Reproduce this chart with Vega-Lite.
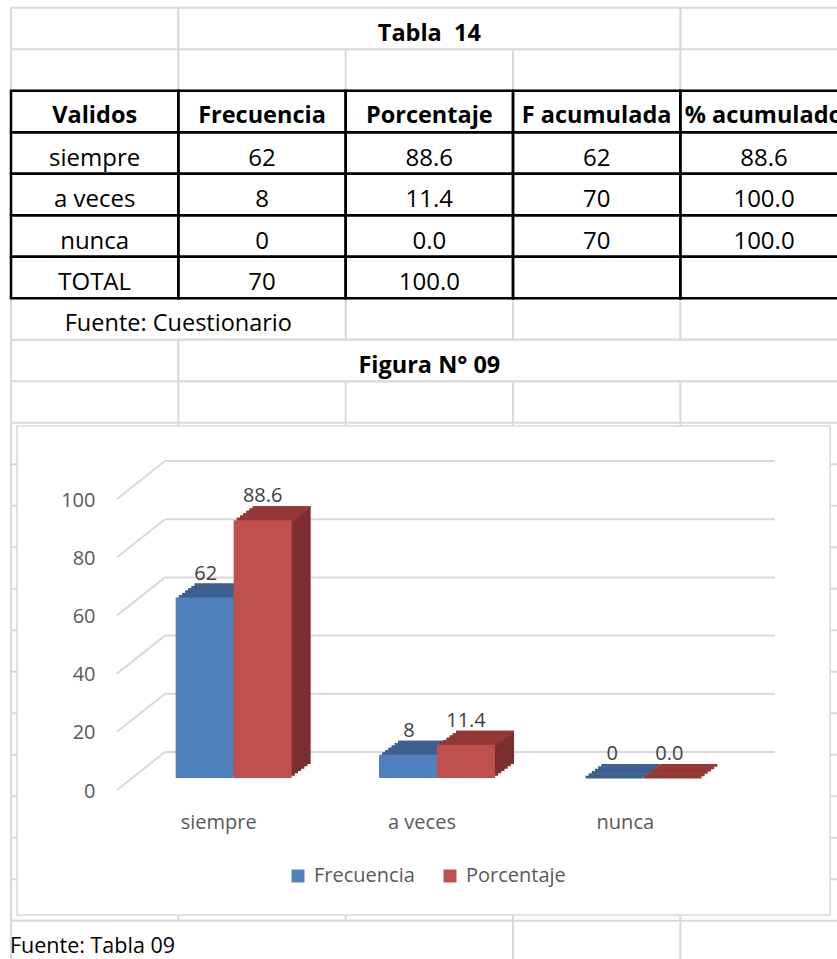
{
"$schema": "https://vega.github.io/schema/vega-lite/v6.json",
"width": 837, "height": 959, "padding": 0,
"autosize": {"type": "none"},
"background": "#ffffff",
"config": {"view": {"stroke": null}, "font": "Open Sans"},
"datasets": {
 "vlines": [{"c":0},{"c":1},{"c":2},{"c":3},{"c":4},{"c":5}],
 "hlines": [{"r":0},{"r":1},{"r":2},{"r":3},{"r":4},{"r":5},{"r":6},{"r":7},{"r":8},{"r":9},{"r":10},{"r":11},{"r":12},{"r":13},{"r":14},{"r":15},{"r":16},{"r":17},{"r":18},{"r":19},{"r":20},{"r":21},{"r":22},{"r":23}],
 "merged": [{"c0":1,"c1":4,"r0":0,"r1":1},{"c0":0,"c1":2,"r0":7,"r1":8},{"c0":1,"c1":5,"r0":8,"r1":9},{"c0":0,"c1":3,"r0":22,"r1":23}],
 "cells": [
  {"row":1,"col":"C","text":"Tabla\u00a0 14","kind":"title"},
  {"row":3,"col":"A","text":"Validos","kind":"header"},
  {"row":3,"col":"B","text":"Frecuencia","kind":"header"},
  {"row":3,"col":"C","text":"Porcentaje","kind":"header"},
  {"row":3,"col":"D","text":"F acumulada","kind":"header"},
  {"row":3,"col":"E","text":"% acumulado","kind":"header"},
  {"row":4,"col":"A","text":"siempre","kind":"body"},
  {"row":4,"col":"B","text":"62","kind":"body"},
  {"row":4,"col":"C","text":"88.6","kind":"body"},
  {"row":4,"col":"D","text":"62","kind":"body"},
  {"row":4,"col":"E","text":"88.6","kind":"body"},
  {"row":5,"col":"A","text":"a veces","kind":"body"},
  {"row":5,"col":"B","text":"8","kind":"body"},
  {"row":5,"col":"C","text":"11.4","kind":"body"},
  {"row":5,"col":"D","text":"70","kind":"body"},
  {"row":5,"col":"E","text":"100.0","kind":"body"},
  {"row":6,"col":"A","text":"nunca","kind":"body"},
  {"row":6,"col":"B","text":"0","kind":"body"},
  {"row":6,"col":"C","text":"0.0","kind":"body"},
  {"row":6,"col":"D","text":"70","kind":"body"},
  {"row":6,"col":"E","text":"100.0","kind":"body"},
  {"row":7,"col":"A","text":"TOTAL","kind":"body"},
  {"row":7,"col":"B","text":"70","kind":"body"},
  {"row":7,"col":"C","text":"100.0","kind":"body"},
  {"row":7,"col":"D","text":"","kind":"body"},
  {"row":7,"col":"E","text":"","kind":"body"},
  {"row":8,"col":"A","text":"Fuente: Cuestionario","kind":"note"},
  {"row":9,"col":"C","text":"Figura N° 09","kind":"title"},
  {"row":23,"col":"A","text":"Fuente: Tabla 09","kind":"footer"}
 ],
 "ticks": [{"v":0},{"v":20},{"v":40},{"v":60},{"v":80},{"v":100}],
 "chart": [
  {"cat":"siempre","series":"Frecuencia","value":62},
  {"cat":"a veces","series":"Frecuencia","value":8},
  {"cat":"nunca","series":"Frecuencia","value":0},
  {"cat":"siempre","series":"Porcentaje","value":88.6},
  {"cat":"a veces","series":"Porcentaje","value":11.4},
  {"cat":"nunca","series":"Porcentaje","value":0.0}
 ]
},
"resolve": {"scale": {"x": "independent", "y": "independent", "color": "independent"}},
"layer": [
 {
  "layer": [
   {"data": {"name": "vlines"},
    "mark": {"type": "rule", "color": "#d9d9d9", "strokeWidth": 2},
    "encoding": {
     "x": {"field": "c", "type": "quantitative", "scale": {"domain": [0, 6], "range": [11, 1015], "nice": false, "zero": false}, "axis": null},
     "y": {"datum": 0, "type": "quantitative", "scale": {"domain": [0, 24], "range": [7.7, 1003.7], "nice": false, "zero": false}, "axis": null},
     "y2": {"datum": 24}
    }},
   {"data": {"name": "hlines"},
    "mark": {"type": "rule", "color": "#d9d9d9", "strokeWidth": 2},
    "encoding": {
     "y": {"field": "r", "type": "quantitative", "axis": null},
     "x": {"datum": 0, "type": "quantitative", "axis": null},
     "x2": {"datum": 6}
    }},
   {"data": {"name": "merged"},
    "mark": {"type": "rect", "fill": "#ffffff", "stroke": "#d9d9d9", "strokeWidth": 2},
    "encoding": {
     "x": {"field": "c0", "type": "quantitative", "axis": null},
     "x2": {"field": "c1"},
     "y": {"field": "r0", "type": "quantitative", "axis": null},
     "y2": {"field": "r1"}
    }}
  ]
 },
 {
  "data": {"name": "cells"},
  "encoding": {
   "x": {"field": "col", "type": "nominal", "scale": {"domain": ["A","B","C","D","E","F"], "range": [11, 1015], "paddingInner": 0, "paddingOuter": 0}, "axis": null},
   "y": {"field": "row", "type": "ordinal", "scale": {"domain": [1,2,3,4,5,6,7,8,9,10,11,12,13,14,15,16,17,18,19,20,21,22,23,24], "range": [7.7, 1003.7], "paddingInner": 0, "paddingOuter": 0}, "axis": null}
  },
  "layer": [
   {"transform": [{"filter": "datum.kind === 'header' || datum.kind === 'body'"}],
    "mark": {"type": "rect", "fill": "#ffffff", "fillOpacity": 0, "stroke": "#000000", "strokeWidth": 2.5}},
   {"transform": [{"filter": "datum.kind === 'header'"}],
    "mark": {"type": "text", "fontSize": 23.5, "fontWeight": "bold", "color": "#000000", "baseline": "alphabetic", "dy": -9},
    "encoding": {"y": {"field": "row", "type": "ordinal", "bandPosition": 1}, "text": {"field": "text"}}},
   {"transform": [{"filter": "datum.kind === 'body'"}],
    "mark": {"type": "text", "fontSize": 24, "color": "#000000", "baseline": "alphabetic", "dy": -8},
    "encoding": {"y": {"field": "row", "type": "ordinal", "bandPosition": 1}, "text": {"field": "text"}}},
   {"transform": [{"filter": "datum.kind === 'title'"}],
    "mark": {"type": "text", "fontSize": 23.5, "fontWeight": "bold", "color": "#000000", "baseline": "alphabetic", "dy": -8},
    "encoding": {"y": {"field": "row", "type": "ordinal", "bandPosition": 1}, "text": {"field": "text"}}},
   {"transform": [{"filter": "datum.kind === 'note'"}],
    "mark": {"type": "text", "fontSize": 23.5, "color": "#000000", "baseline": "alphabetic", "dy": -9},
    "encoding": {"x": {"field": "col", "type": "nominal", "bandPosition": 1}, "y": {"field": "row", "type": "ordinal", "bandPosition": 1}, "text": {"field": "text"}}},
   {"transform": [{"filter": "datum.kind === 'footer'"}],
    "mark": {"type": "text", "fontSize": 21.5, "color": "#000000", "align": "left", "baseline": "alphabetic", "dy": -9, "dx": -1},
    "encoding": {"x": {"field": "col", "type": "nominal", "bandPosition": 0}, "y": {"field": "row", "type": "ordinal", "bandPosition": 1}, "text": {"field": "text"}}}
  ]
 },
 {
  "data": {"values": [{"k": 1}]},
  "mark": {"type": "rect", "fill": "#ffffff", "stroke": "#d9d9d9", "strokeWidth": 1.5},
  "encoding": {
   "x": {"datum": 0, "type": "quantitative", "scale": {"domain": [0, 1], "range": [17, 830], "nice": false, "zero": false}, "axis": null},
   "x2": {"datum": 1},
   "y": {"datum": 0, "type": "quantitative", "scale": {"domain": [0, 1], "range": [915, 426], "nice": false, "zero": false}, "axis": null},
   "y2": {"datum": 1}
  }
 },
 {
  "data": {"name": "ticks"},
  "encoding": {
   "y": {"field": "v", "type": "quantitative", "scale": {"domain": [0, 100], "range": [752, 461], "nice": false, "zero": true},
    "axis": {"orient": "left", "offset": -117, "labelPadding": 22, "labelOffset": 39, "ticks": false, "domain": false, "grid": false, "title": null, "values": [0,20,40,60,80,100], "labelFontSize": 20, "labelFont": "Open Sans", "labelColor": "#595959", "zindex": 2}}
  },
  "layer": [
   {"mark": {"type": "rule", "color": "#d9d9d9", "strokeWidth": 2},
    "encoding": {
     "x": {"datum": 0, "type": "quantitative", "scale": {"domain": [0, 1], "range": [165, 775], "nice": false, "zero": false}, "axis": null},
     "x2": {"datum": 1}
    }},
   {"mark": {"type": "rule", "color": "#d9d9d9", "strokeWidth": 2, "x2Offset": -48, "y2Offset": 38},
    "encoding": {
     "x": {"datum": 0, "type": "quantitative", "axis": null},
     "x2": {"datum": 0},
     "y2": {"field": "v"}
    }}
  ]
 },
 {
  "data": {"name": "chart"},
  "encoding": {
   "x": {"field": "cat", "type": "nominal", "sort": null, "scale": {"domain": ["siempre", "a veces", "nunca"], "range": [165, 775], "paddingInner": 0, "paddingOuter": 0},
    "axis": {"orient": "bottom", "offset": -151, "labelOffset": -48, "labelPadding": 4, "ticks": false, "domain": false, "grid": false, "title": null, "labelAngle": 0, "labelFontSize": 20, "labelFont": "Open Sans", "labelColor": "#595959", "zindex": 2}},
   "y": {"field": "value", "type": "quantitative", "scale": {"domain": [0, 100], "range": [752, 461], "nice": false, "zero": true}, "axis": null}
  },
  "layer": [
   {
    "transform": [{"filter": "datum.series === 'Frecuencia'"}],
    "layer": [
     {"mark": {"type": "bar", "width": 58, "color": "#35577f", "xOffset": -58.83, "yOffset": 23.67, "y2Offset": 23.67}},
     {"mark": {"type": "bar", "width": 58, "color": "#35577f", "xOffset": -55.67, "yOffset": 21.33, "y2Offset": 21.33}},
     {"mark": {"type": "bar", "width": 58, "color": "#35577f", "xOffset": -52.5, "yOffset": 19, "y2Offset": 19}},
     {"mark": {"type": "bar", "width": 58, "color": "#35577f", "xOffset": -49.33, "yOffset": 16.67, "y2Offset": 16.67}},
     {"mark": {"type": "bar", "width": 58, "color": "#35577f", "xOffset": -46.17, "yOffset": 14.33, "y2Offset": 14.33}},
     {"mark": {"type": "bar", "width": 58, "color": "#35577f", "xOffset": -43, "yOffset": 12, "y2Offset": 12}},
     {"mark": {"type": "bar", "width": 58, "color": "#3c618e", "xOffset": -58.83, "yOffset": 23.67, "y2Offset": 26.5}, "encoding": {"y2": {"field": "value"}}},
     {"mark": {"type": "bar", "width": 58, "color": "#3c618e", "xOffset": -55.67, "yOffset": 21.33, "y2Offset": 24.17}, "encoding": {"y2": {"field": "value"}}},
     {"mark": {"type": "bar", "width": 58, "color": "#3c618e", "xOffset": -52.5, "yOffset": 19, "y2Offset": 21.83}, "encoding": {"y2": {"field": "value"}}},
     {"mark": {"type": "bar", "width": 58, "color": "#3c618e", "xOffset": -49.33, "yOffset": 16.67, "y2Offset": 19.5}, "encoding": {"y2": {"field": "value"}}},
     {"mark": {"type": "bar", "width": 58, "color": "#3c618e", "xOffset": -46.17, "yOffset": 14.33, "y2Offset": 17.17}, "encoding": {"y2": {"field": "value"}}},
     {"mark": {"type": "bar", "width": 58, "color": "#3c618e", "xOffset": -43, "yOffset": 12, "y2Offset": 14.83}, "encoding": {"y2": {"field": "value"}}},
     {"mark": {"type": "bar", "width": 58, "xOffset": -62, "yOffset": 26, "y2Offset": 26},
      "encoding": {"color": {"field": "series", "type": "nominal", "scale": {"domain": ["Frecuencia", "Porcentaje"], "range": ["#4f81bd", "#c0504d"]},
       "legend": {"orient": "none", "legendX": 288, "legendY": 866, "direction": "horizontal", "title": null, "symbolType": "square", "symbolSize": 169, "symbolStrokeWidth": 0, "labelFontSize": 20, "labelFont": "Open Sans", "labelColor": "#595959", "labelOffset": 6, "columnPadding": 25, "zindex": 2}}}},
     {"mark": {"type": "text", "fontSize": 20, "color": "#404040", "baseline": "middle", "xOffset": -61, "yOffset": 2},
      "encoding": {"text": {"field": "value", "type": "quantitative", "format": "d"}}}
    ]
   },
   {
    "transform": [{"filter": "datum.series === 'Porcentaje'"}],
    "layer": [
     {"mark": {"type": "bar", "width": 58, "color": "#7b2e2d", "xOffset": -0.83, "yOffset": 23.67, "y2Offset": 23.67}},
     {"mark": {"type": "bar", "width": 58, "color": "#7b2e2d", "xOffset": 2.33, "yOffset": 21.33, "y2Offset": 21.33}},
     {"mark": {"type": "bar", "width": 58, "color": "#7b2e2d", "xOffset": 5.5, "yOffset": 19, "y2Offset": 19}},
     {"mark": {"type": "bar", "width": 58, "color": "#7b2e2d", "xOffset": 8.67, "yOffset": 16.67, "y2Offset": 16.67}},
     {"mark": {"type": "bar", "width": 58, "color": "#7b2e2d", "xOffset": 11.83, "yOffset": 14.33, "y2Offset": 14.33}},
     {"mark": {"type": "bar", "width": 58, "color": "#7b2e2d", "xOffset": 15, "yOffset": 12, "y2Offset": 12}},
     {"mark": {"type": "bar", "width": 58, "color": "#953735", "xOffset": -0.83, "yOffset": 23.67, "y2Offset": 26.5}, "encoding": {"y2": {"field": "value"}}},
     {"mark": {"type": "bar", "width": 58, "color": "#953735", "xOffset": 2.33, "yOffset": 21.33, "y2Offset": 24.17}, "encoding": {"y2": {"field": "value"}}},
     {"mark": {"type": "bar", "width": 58, "color": "#953735", "xOffset": 5.5, "yOffset": 19, "y2Offset": 21.83}, "encoding": {"y2": {"field": "value"}}},
     {"mark": {"type": "bar", "width": 58, "color": "#953735", "xOffset": 8.67, "yOffset": 16.67, "y2Offset": 19.5}, "encoding": {"y2": {"field": "value"}}},
     {"mark": {"type": "bar", "width": 58, "color": "#953735", "xOffset": 11.83, "yOffset": 14.33, "y2Offset": 17.17}, "encoding": {"y2": {"field": "value"}}},
     {"mark": {"type": "bar", "width": 58, "color": "#953735", "xOffset": 15, "yOffset": 12, "y2Offset": 14.83}, "encoding": {"y2": {"field": "value"}}},
     {"mark": {"type": "bar", "width": 58, "xOffset": -4, "yOffset": 26, "y2Offset": 26},
      "encoding": {"color": {"field": "series", "type": "nominal"}}},
     {"mark": {"type": "text", "fontSize": 20, "color": "#404040", "baseline": "middle", "xOffset": -4, "yOffset": 2},
      "encoding": {"text": {"field": "value", "type": "quantitative", "format": ".1f"}}}
    ]
   }
  ]
 }
]
}
